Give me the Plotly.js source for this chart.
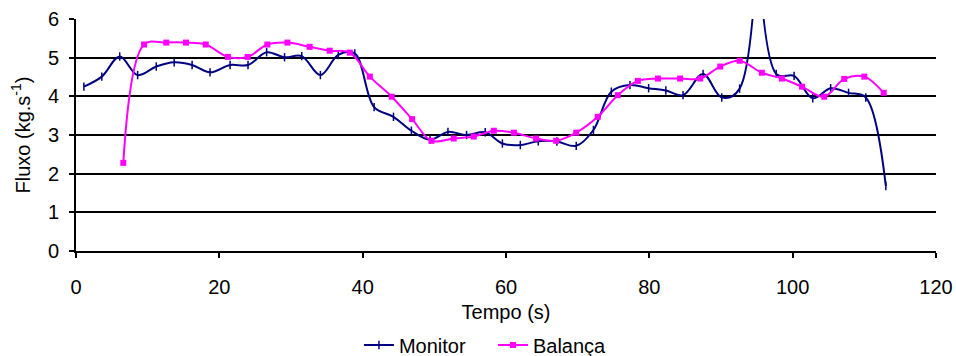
<!DOCTYPE html>
<html>
<head>
<meta charset="utf-8">
<script src="https://cdn.plot.ly/plotly-3.0.1.min.js"></script>
<style>html,body{margin:0;padding:0;background:#fff;}#chart{width:956px;height:356px;}</style>
</head>
<body>
<div id="chart"></div>
<script>
const monitorX = [1.1, 3.6, 6.1, 8.6, 11.2, 13.7, 16.2, 18.7, 21.5, 24.0, 26.6, 29.1, 31.5, 34.1, 36.6, 38.9, 41.6, 44.3, 46.8, 49.4, 51.9, 54.5, 57.1, 59.5, 62.0, 64.5, 67.1, 69.8, 72.2, 74.7, 77.3, 79.9, 82.3, 84.7, 87.5, 90.1, 92.6, 95.3, 97.7, 100.2, 102.8, 105.3, 107.8, 110.2, 113.0];
const monitorY = [4.25, 4.51, 5.03, 4.55, 4.77, 4.88, 4.81, 4.62, 4.81, 4.81, 5.14, 5.01, 5.04, 4.55, 5.07, 5.11, 3.72, 3.47, 3.11, 2.88, 3.08, 3.0, 3.07, 2.78, 2.74, 2.84, 2.83, 2.72, 3.13, 4.12, 4.29, 4.21, 4.15, 4.03, 4.58, 3.97, 4.2, 50.0, 4.58, 4.53, 3.95, 4.21, 4.09, 3.97, 1.68];
const balancaX = [6.6, 9.5, 12.6, 15.35, 18.1, 21.2, 23.95, 26.7, 29.5, 32.6, 35.4, 38.2, 41.0, 44.05, 46.9, 49.6, 52.7, 55.5, 58.3, 61.1, 64.2, 67.0, 69.8, 72.8, 75.6, 78.4, 81.2, 84.3, 87.1, 89.9, 92.6, 95.7, 98.5, 101.3, 104.4, 107.2, 110.0, 112.7];
const balancaY = [2.28, 5.34, 5.39, 5.39, 5.34, 5.02, 5.02, 5.34, 5.39, 5.28, 5.18, 5.13, 4.51, 3.99, 3.41, 2.85, 2.91, 2.96, 3.11, 3.06, 2.91, 2.85, 3.06, 3.47, 4.03, 4.40, 4.46, 4.46, 4.46, 4.77, 4.92, 4.61, 4.46, 4.25, 3.99, 4.45, 4.51, 4.09];
const seriesNames = ['Monitor', 'Balança'];
const xTitle = 'Tempo (s)';
const yTitle = 'Fluxo (kg.s<sup>-1</sup>)';

const FONT = 'Liberation Sans, Arial, sans-serif';
const traces = [
  {
    x: monitorX, y: monitorY, name: seriesNames[0], type: 'scatter', mode: 'lines+markers',
    line: {color: '#000080', width: 2, shape: 'spline', smoothing: 1},
    marker: {symbol: 'line-ns-open', size: 6, color: '#000080', line: {color: '#000080', width: 1.5}}
  },
  {
    x: balancaX, y: balancaY, name: seriesNames[1], type: 'scatter', mode: 'lines+markers',
    line: {color: '#FF00FF', width: 2, shape: 'spline', smoothing: 1},
    marker: {symbol: 'square', size: 6, color: '#FF00FF'}
  }
];
const layout = {
  width: 956, height: 356,
  margin: {l: 76, r: 20, t: 19, b: 105, autoexpand: false},
  paper_bgcolor: '#fff', plot_bgcolor: '#fff',
  font: {family: FONT, size: 20, color: '#000'},
  showlegend: true,
  legend: {orientation: 'h', x: 0.329, xanchor: 'left', y: -0.405, yanchor: 'middle',
           font: {size: 20}, entrywidth: 89, entrywidthmode: 'pixels'},
  xaxis: {
    range: [0, 120], tick0: 0, dtick: 20, ticks: 'outside', ticklen: 5, tickwidth: 2, tickcolor: '#000',
    showline: true, linecolor: '#000', linewidth: 2, showgrid: false, zeroline: false,
    ticklabelstandoff: 12, automargin: false,
    title: {text: xTitle, standoff: 8, font: {size: 20}}
  },
  yaxis: {
    range: [0, 6], tick0: 0, dtick: 1, ticks: 'outside', ticklen: 5, tickwidth: 2, tickcolor: '#000',
    showline: true, linecolor: '#000', linewidth: 2, showgrid: true, gridcolor: '#000', gridwidth: 2,
    zeroline: false, automargin: false, ticklabelstandoff: 6,
    title: {text: yTitle, standoff: 12, font: {size: 20}}
  }
};
Plotly.newPlot('chart', traces, layout, {displayModeBar: false, staticPlot: true});
</script>
</body>
</html>
